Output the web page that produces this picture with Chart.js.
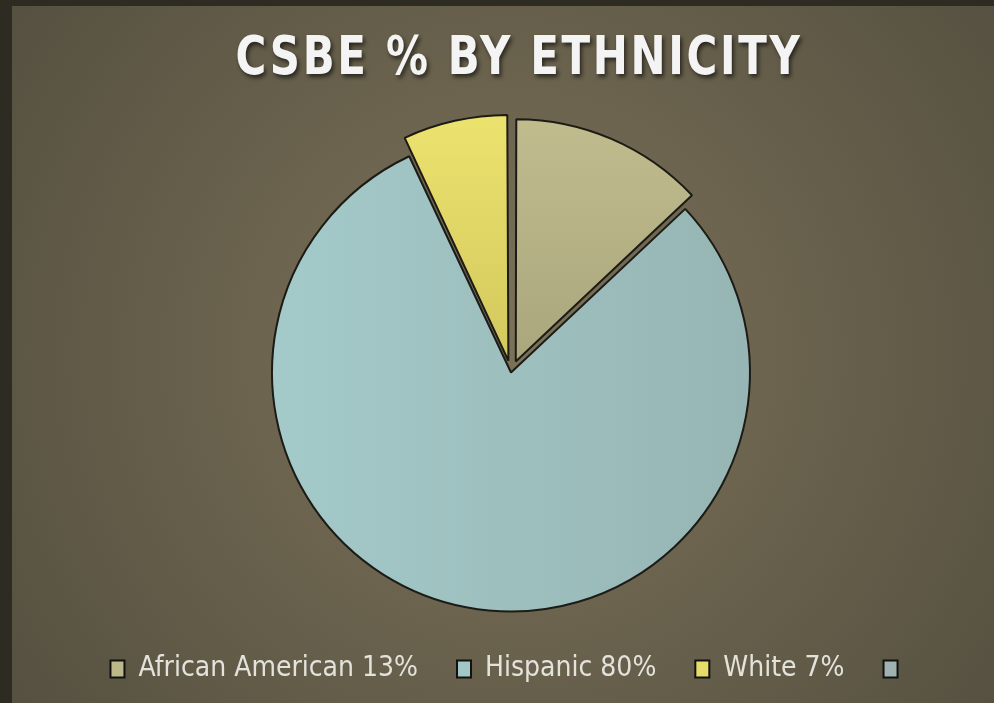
<!DOCTYPE html>
<html>
<head>
<meta charset="utf-8">
<script src="https://cdn.jsdelivr.net/npm/chart.js@4.4.1/dist/chart.umd.min.js"></script>
<style>
html, body { margin: 0; padding: 0; background: #2e2b22; overflow: hidden; }
#wrap { position: absolute; left: 12px; top: 6px; width: 998px; height: 697px; }
</style>
</head>
<body>
<div id="wrap"><canvas id="c"></canvas></div>
<script>
// chart values
var title = 'CSBE % BY ETHNICITY';
var labels = ['African American 13%', 'Hispanic 80%', 'White 7%', ''];
var values = [13, 80, 7, 0];
var colors = ['#bcb889', '#a2c7c7', '#e6dc6a', '#9fb2af'];
// light / dark ends of the slice shading
var shades = [['#c0bc8e', '#aaa67c'], ['#a6cdcd', '#94b2b0'], ['#ece26e', '#d2c75c'], ['#9fb2af', '#9fb2af']];
var offsets = [48, 0, 48, 0];

function sliceFill(c) {
	var chart = c.chart, area = chart.chartArea;
	if (!area) return colors[c.dataIndex];
	var s = shades[c.dataIndex];
	var g;
	if (c.dataIndex === 1) {
		g = chart.ctx.createLinearGradient(area.left + 180, 0, area.right - 180, 0);
	} else {
		g = chart.ctx.createLinearGradient(0, area.top, 0, area.top + 250);
	}
	g.addColorStop(0, s[0]);
	g.addColorStop(1, s[1]);
	return g;
}

var bgPlugin = {
	id: 'bg',
	beforeDraw: function (chart) {
		var ctx = chart.ctx, w = chart.width, h = chart.height;
		var g = ctx.createRadialGradient(498, h * 0.5, 20, 498, h * 0.5, 610);
		g.addColorStop(0, '#7b7158');
		g.addColorStop(1, '#555040');
		ctx.save();
		ctx.fillStyle = g;
		ctx.fillRect(0, 0, w, h);
		ctx.restore();
	}
};

// title drawn by hand so the letter spacing can be set
var titlePlugin = {
	id: 'spacedTitle',
	afterDraw: function (chart) {
		var ctx = chart.ctx;
		ctx.save();
		ctx.translate(507, 54);
		ctx.scale(0.88, 1);
		ctx.font = 'bold 53px "DejaVu Sans Condensed", "DejaVu Sans", sans-serif';
		ctx.letterSpacing = '3px';
		ctx.textAlign = 'center';
		ctx.textBaseline = 'middle';
		ctx.shadowColor = 'rgba(0,0,0,0.6)';
		ctx.shadowOffsetX = 2;
		ctx.shadowOffsetY = 3;
		ctx.shadowBlur = 4;
		ctx.fillStyle = '#f4f4f4';
		ctx.fillText(title, 0, 0);
		ctx.restore();
	}
};

new Chart(document.getElementById('c'), {
	type: 'pie',
	data: {
		labels: labels,
		datasets: [{
			data: values,
			backgroundColor: sliceFill,
			borderColor: '#1c1b15',
			borderWidth: 2,
			offset: offsets
		}]
	},
	options: {
		responsive: true,
		maintainAspectRatio: false,
		animation: false,
		radius: 239,
		layout: {padding: {top: 123, left: 0, right: 0, bottom: 10}},
		plugins: {
			tooltip: {enabled: false},
			legend: {
				position: 'bottom',
				labels: {
					color: '#e3e3dc',
					font: {size: 28, family: '"DejaVu Sans Condensed", "DejaVu Sans", sans-serif'},
					boxWidth: 14,
					boxHeight: 17,
					padding: 39,
					generateLabels: function (chart) {
						return labels.map(function (l, i) {
							return {text: l, fillStyle: colors[i], strokeStyle: '#111', lineWidth: 2, fontColor: '#e3e3dc', index: i};
						});
					}
				}
			}
		}
	},
	plugins: [bgPlugin, titlePlugin]
});
</script>
</body>
</html>
